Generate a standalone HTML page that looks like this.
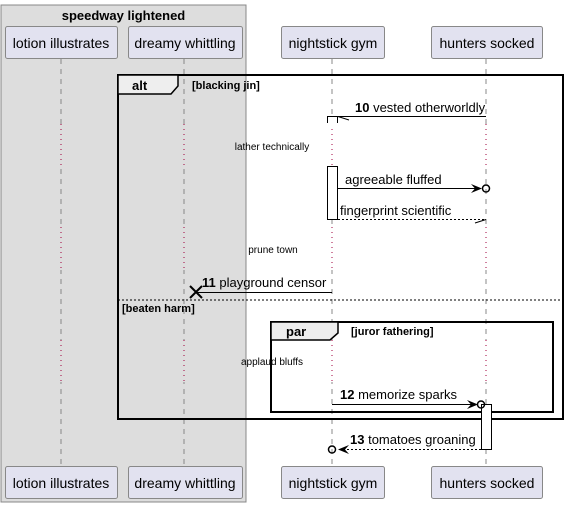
<!DOCTYPE html>
<html><head><meta charset="utf-8"><style>
html,body{margin:0;padding:0;background:#fff;}
svg{display:block;font-family:"Liberation Sans",sans-serif;}
</style></head><body>
<svg width="568" height="507" viewBox="0 0 568 507" xmlns="http://www.w3.org/2000/svg">
<rect x="1" y="5" width="245" height="497" fill="#dddddd" stroke="#888" stroke-width="1"/>
<text x="123.5" y="20" font-size="13" font-weight="bold" text-anchor="middle">speedway lightened</text>
<g stroke="#888" stroke-width="1" stroke-dasharray="5,5">
<line x1="61" y1="59" x2="61" y2="466"/>
<line x1="184" y1="59" x2="184" y2="466"/>
<line x1="332" y1="59" x2="332" y2="466"/>
<line x1="486" y1="59" x2="486" y2="466"/>
</g>
<g stroke="#fff" stroke-width="3">
<line x1="61" y1="124" x2="61" y2="166"/><line x1="184" y1="124" x2="184" y2="166"/><line x1="332" y1="124" x2="332" y2="166"/><line x1="486" y1="124" x2="486" y2="166"/>
<line x1="61" y1="227" x2="61" y2="270"/><line x1="184" y1="227" x2="184" y2="270"/><line x1="332" y1="227" x2="332" y2="270"/><line x1="486" y1="227" x2="486" y2="270"/>
<line x1="61" y1="340" x2="61" y2="382"/><line x1="184" y1="340" x2="184" y2="382"/><line x1="332" y1="340" x2="332" y2="382"/><line x1="486" y1="340" x2="486" y2="382"/>
</g>
<g fill="none">
<path d="M61 124V166M61 227V270M61 340V382" stroke="#ddd" stroke-width="3"/>
<path d="M184 124V166M184 227V270M184 340V382" stroke="#ddd" stroke-width="3"/>
</g>
<g stroke="#a0003c" stroke-width="1" stroke-dasharray="1,4">
<path d="M61 124V166M61 227V270M61 340V382"/>
<path d="M184 124V166M184 227V270M184 340V382"/>
<path d="M332 124V166M332 227V270M332 340V382"/>
<path d="M486 124V166M486 227V270M486 340V382"/>
</g>
<g fill="#e2e2f0" stroke="#888" stroke-width="1">
<rect x="5.5" y="26.5" width="112" height="32" rx="2"/>
<rect x="128.5" y="26.5" width="114" height="32" rx="2"/>
<rect x="281.5" y="26.5" width="103" height="32" rx="2"/>
<rect x="431.5" y="26.5" width="111" height="32" rx="2"/>
<rect x="5.5" y="466.5" width="112" height="32" rx="2"/>
<rect x="128.5" y="466.5" width="114" height="32" rx="2"/>
<rect x="281.5" y="466.5" width="103" height="32" rx="2"/>
<rect x="431.5" y="466.5" width="111" height="32" rx="2"/>
</g>
<g font-size="14" text-anchor="middle" fill="#000">
<text x="61" y="48">lotion illustrates</text>
<text x="185" y="48">dreamy whittling</text>
<text x="333" y="48">nightstick gym</text>
<text x="487" y="48">hunters socked</text>
<text x="61" y="488">lotion illustrates</text>
<text x="185" y="488">dreamy whittling</text>
<text x="333" y="488">nightstick gym</text>
<text x="487" y="488">hunters socked</text>
</g>
<!-- alt frame -->
<rect x="118" y="75" width="445" height="344" fill="none" stroke="#000" stroke-width="2"/>
<path d="M118 75H178V86L171 94H118Z" fill="#eee" stroke="#000" stroke-width="1.5"/>
<text x="132" y="90" font-size="13" font-weight="bold">alt</text>
<text x="192" y="89" font-size="11" font-weight="bold">[blacking jin]</text>
<line x1="118" y1="300" x2="563" y2="300" stroke="#000" stroke-dasharray="2,2"/>
<text x="122" y="312" font-size="11" font-weight="bold">[beaten harm]</text>
<!-- par frame -->
<rect x="271" y="322" width="282" height="90" fill="none" stroke="#000" stroke-width="2"/>
<path d="M271 322H338V333L330 340H271Z" fill="#eee" stroke="#000" stroke-width="1.5"/>
<text x="286" y="336" font-size="13" font-weight="bold">par</text>
<text x="351" y="335" font-size="11" font-weight="bold">[juror fathering]</text>
<!-- activations -->
<rect x="327.5" y="116.5" width="10" height="8" fill="#fff" stroke="#000"/>
<line x1="327" y1="124" x2="338" y2="124" stroke="#fff" stroke-width="2"/>
<rect x="327.5" y="166.5" width="10" height="53" fill="#fff" stroke="#000"/>
<rect x="481.5" y="404.5" width="10" height="45" fill="#fff" stroke="#000"/>
<!-- messages -->
<g stroke="#000" stroke-width="1" fill="none">
<line x1="486" y1="116.5" x2="338" y2="116.5"/><line x1="338" y1="116.5" x2="349" y2="120"/>
<line x1="338" y1="188.5" x2="478" y2="188.5"/>
<circle cx="486" cy="188.5" r="3.5" stroke-width="1.5"/>
<line x1="338" y1="219.5" x2="486" y2="219.5" stroke-dasharray="2,2"/><line x1="486" y1="219.5" x2="475" y2="223"/>
<line x1="332" y1="292.5" x2="196" y2="292.5"/>
<path d="M190 286L202 298M202 286L190 298" stroke-width="2"/>
<line x1="332" y1="404.5" x2="473" y2="404.5"/>
<circle cx="481" cy="404.5" r="3.5" stroke-width="1.5"/>
<line x1="481" y1="449.5" x2="340" y2="449.5" stroke-dasharray="2,2"/>
<circle cx="332" cy="449.5" r="3.5" stroke-width="1.5"/>
</g>
<path d="M471 184L482 188.5L471 193L475 188.5Z" fill="#000"/>
<path d="M467 400L478 404.5L467 409L471 404.5Z" fill="#000"/>
<path d="M349 445L338 449.5L349 454L345 449.5Z" fill="#000"/>
<g font-size="13" fill="#000">
<text x="355" y="112"><tspan font-weight="bold">10</tspan> vested otherworldly</text>
<text x="345" y="184">agreeable fluffed</text>
<text x="340" y="215">fingerprint scientific</text>
<text x="202" y="287"><tspan font-weight="bold">11</tspan> playground censor</text>
<text x="340" y="399"><tspan font-weight="bold">12</tspan> memorize sparks</text>
<text x="350" y="444"><tspan font-weight="bold">13</tspan> tomatoes groaning</text>
</g>
<g font-size="10" text-anchor="middle" fill="#000">
<text x="272" y="150">lather technically</text>
<text x="273" y="253">prune town</text>
<text x="272" y="365">applaud bluffs</text>
</g>
</svg>
</body></html>
